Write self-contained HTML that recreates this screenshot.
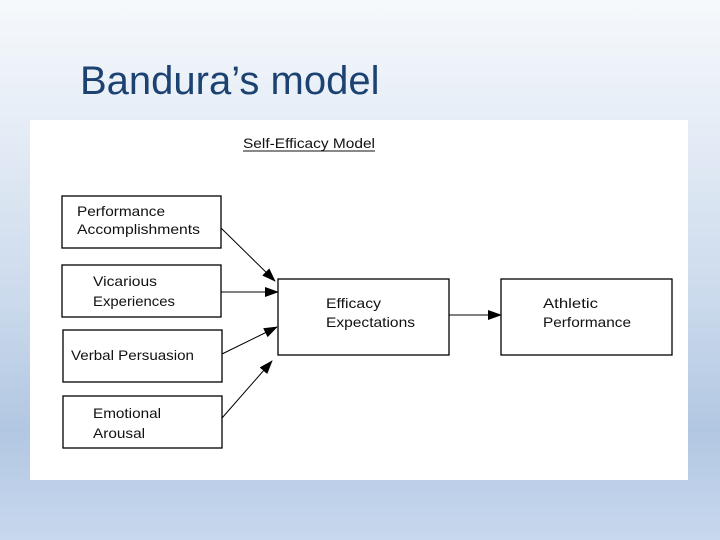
<!DOCTYPE html>
<html><head><meta charset="utf-8"><style>
html,body{margin:0;padding:0;}
body{width:720px;height:540px;overflow:hidden;position:relative;
background:linear-gradient(to bottom,#f6f9fc 0px,#e6edf6 120px,#cbdaec 300px,#b2c7e2 430px,#bccfe8 480px,#c8d8ee 540px);
font-family:"Liberation Sans",sans-serif;}
.title{position:absolute;left:80px;top:58px;font-size:40px;color:#1c4272;line-height:46px;}
svg{position:absolute;left:0;top:0;}
</style></head><body>
<div class="title">Bandura’s model</div>
<svg width="720" height="540" viewBox="0 0 720 540">
<defs><marker id="a" markerWidth="14" markerHeight="10" refX="13" refY="5" orient="auto" markerUnits="userSpaceOnUse"><path d="M0,0 L14,5 L0,10 z" fill="#000"/></marker></defs>
<rect x="30" y="120" width="658" height="360" fill="#fff"/>
<g font-family="Liberation Sans, sans-serif" font-size="14" fill="#111" lengthAdjust="spacingAndGlyphs">
<text x="243" y="148" font-size="13.5" textLength="132" lengthAdjust="spacingAndGlyphs">Self-Efficacy Model</text>
<line x1="243" y1="151" x2="375" y2="151" stroke="#111" stroke-width="1"/>
<g fill="none" stroke="#000" stroke-width="1.3">
<rect x="62" y="196" width="159" height="52"/>
<rect x="62" y="265" width="159" height="52"/>
<rect x="63" y="330" width="159" height="52"/>
<rect x="63" y="396" width="159" height="52"/>
<rect x="278" y="279" width="171" height="76"/>
<rect x="501" y="279" width="171" height="76"/>
<line x1="221" y1="228" x2="275" y2="281" marker-end="url(#a)" stroke-width="1"/>
<line x1="221" y1="292" x2="278" y2="292" marker-end="url(#a)" stroke-width="1"/>
<line x1="222" y1="354" x2="277" y2="327" marker-end="url(#a)" stroke-width="1"/>
<line x1="222" y1="418" x2="272" y2="361" marker-end="url(#a)" stroke-width="1"/>
<line x1="449" y1="315" x2="501" y2="315" marker-end="url(#a)" stroke-width="1"/>
</g>
<text x="77" y="216" textLength="88" lengthAdjust="spacingAndGlyphs">Performance</text>
<text x="77" y="234" textLength="123" lengthAdjust="spacingAndGlyphs">Accomplishments</text>
<text x="93" y="286" textLength="64" lengthAdjust="spacingAndGlyphs">Vicarious</text>
<text x="93" y="306" textLength="82" lengthAdjust="spacingAndGlyphs">Experiences</text>
<text x="71" y="360" textLength="123" lengthAdjust="spacingAndGlyphs">Verbal Persuasion</text>
<text x="93" y="418" textLength="68" lengthAdjust="spacingAndGlyphs">Emotional</text>
<text x="93" y="438" textLength="52" lengthAdjust="spacingAndGlyphs">Arousal</text>
<text x="326" y="308" textLength="55" lengthAdjust="spacingAndGlyphs">Efficacy</text>
<text x="326" y="327" textLength="89" lengthAdjust="spacingAndGlyphs">Expectations</text>
<text x="543" y="308" textLength="55" lengthAdjust="spacingAndGlyphs">Athletic</text>
<text x="543" y="327" textLength="88" lengthAdjust="spacingAndGlyphs">Performance</text>
</g>
</svg>
</body></html>
